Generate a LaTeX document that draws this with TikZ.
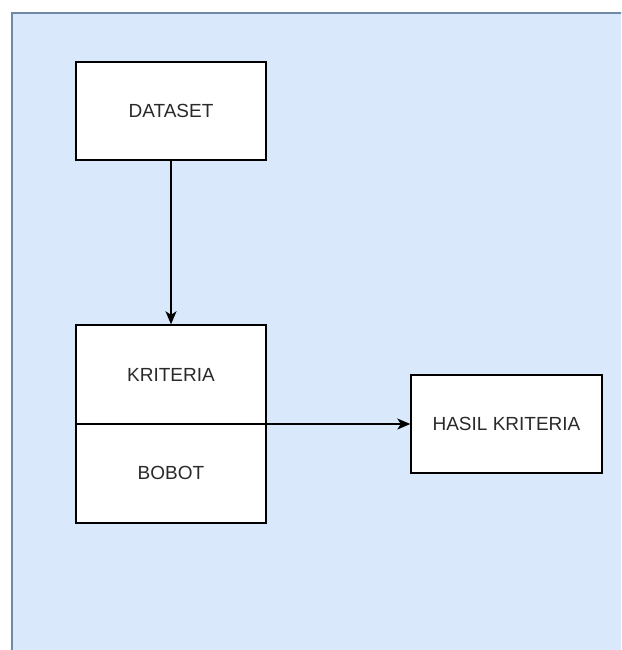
\documentclass[tikz,border=0pt]{standalone}
\usepackage{fontspec}
\setmainfont{Liberation Sans}
\usetikzlibrary{arrows.meta}
\definecolor{bgblue}{HTML}{DAE8FC}
\definecolor{bgline}{HTML}{6F8AA8}
\definecolor{txt}{HTML}{2A2A2A}
\tikzset{
  box/.style={draw=black, fill=white, line width=1.4pt, minimum width=190pt, minimum height=98pt, inner sep=0pt, text=txt, font=\fontsize{19}{22}\selectfont},
  lbl/.style={text=txt, font=\fontsize{19}{22}\selectfont},
  conn/.style={draw=black, line width=1.4pt, -{Stealth[length=13pt,width=11pt,inset=3.5pt]}}
}
\begin{document}
\begin{tikzpicture}[x=1pt,y=-1pt]
\useasboundingbox (0,0) rectangle (621,650);
\clip (0,0) rectangle (621,650);
\fill[bgblue] (11,12) rectangle (630,660);
\draw[bgline, line width=2pt] (12,660) -- (12,13) -- (630,13);
\node[box] (dataset) at (171,111) {DATASET};
\node[box, minimum height=198pt] (krit) at (171,424) {};
\coordinate (dl) at (76,424);
\coordinate (dr) at (266,424);
\draw[line width=1.4pt] (dl) -- (dr);
\node[lbl] (kt) at (171,375) {KRITERIA};
\node[lbl] (bt) at (171,473) {BOBOT};
\node[box, minimum width=191pt] (hasil) at (506.5,424) {HASIL KRITERIA};
\draw[conn] (dataset.south) -- (krit.north);
\draw[conn] (dr) -- (hasil.west);
\end{tikzpicture}
\end{document}
